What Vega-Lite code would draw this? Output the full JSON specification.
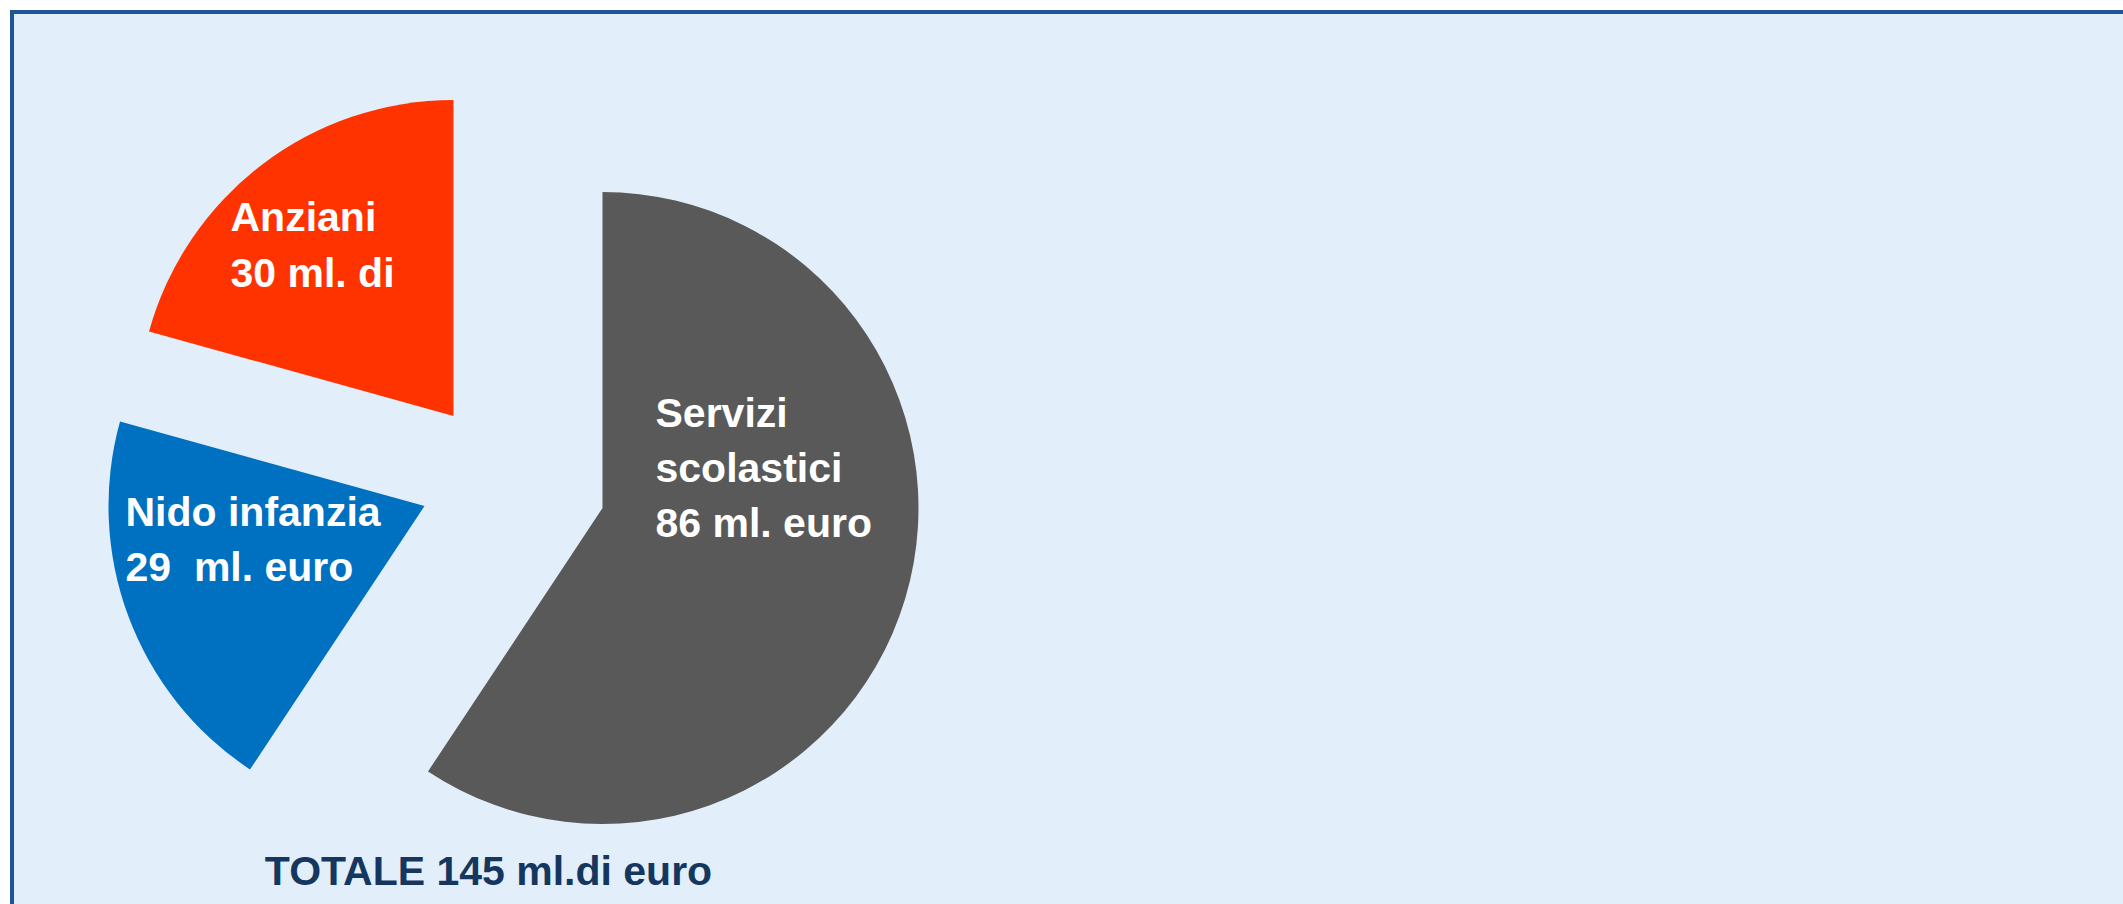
{
  "$schema": "https://vega.github.io/schema/vega-lite/v6.json",
  "autosize": {"type": "none"},
  "padding": {"left": 12, "top": 12, "right": -4, "bottom": -4},
  "width": 2115,
  "height": 896,
  "background": "#ffffff",
  "view": {"fill": "#E2EFFB", "stroke": "#1F5597", "strokeWidth": 4},
  "datasets": {
    "spesa": [
      {"categoria": "Servizi scolastici", "valore": 86, "etichetta": "Servizi\nscolastici\n86 ml. euro"},
      {"categoria": "Nido infanzia", "valore": 29, "etichetta": "Nido infanzia\n29\u00a0 ml. euro"},
      {"categoria": "Anziani", "valore": 30, "etichetta": "Anziani\n30 ml. di"}
    ],
    "totale": [{"testo": "TOTALE 145 ml.di euro"}]
  },
  "layer": [
    {
      "data": {"name": "spesa"},
      "transform": [
        {"stack": "valore", "groupby": [], "sort": [{"field": "categoria", "order": "descending"}], "as": ["inizio", "fine"]},
        {"filter": "datum.categoria == 'Servizi scolastici'"}
      ],
      "mark": {"type": "arc", "outerRadius": 316, "xOffset": -467, "yOffset": 48},
      "encoding": {
        "theta": {"field": "inizio", "type": "quantitative", "scale": {"domain": [0, 145]}},
        "theta2": {"field": "fine"},
        "color": {"field": "categoria", "type": "nominal", "scale": {"domain": ["Servizi scolastici", "Nido infanzia", "Anziani"], "range": ["#595959", "#0070C0", "#FF3300"]}, "legend": null}
      }
    },
    {
      "data": {"name": "spesa"},
      "transform": [
        {"stack": "valore", "groupby": [], "sort": [{"field": "categoria", "order": "descending"}], "as": ["inizio", "fine"]},
        {"filter": "datum.categoria == 'Nido infanzia'"}
      ],
      "mark": {"type": "arc", "outerRadius": 316, "xOffset": -645, "yOffset": 46},
      "encoding": {
        "theta": {"field": "inizio", "type": "quantitative", "scale": {"domain": [0, 145]}},
        "theta2": {"field": "fine"},
        "color": {"field": "categoria", "type": "nominal", "legend": null}
      }
    },
    {
      "data": {"name": "spesa"},
      "transform": [
        {"stack": "valore", "groupby": [], "sort": [{"field": "categoria", "order": "descending"}], "as": ["inizio", "fine"]},
        {"filter": "datum.categoria == 'Anziani'"}
      ],
      "mark": {"type": "arc", "outerRadius": 316, "xOffset": -616, "yOffset": -44},
      "encoding": {
        "theta": {"field": "inizio", "type": "quantitative", "scale": {"domain": [0, 145]}},
        "theta2": {"field": "fine"},
        "color": {"field": "categoria", "type": "nominal", "legend": null}
      }
    },
    {
      "data": {"name": "spesa"},
      "transform": [{"filter": "datum.categoria == 'Servizi scolastici'"}],
      "mark": {"type": "text", "align": "left", "baseline": "alphabetic", "font": "Liberation Sans", "fontWeight": "bold", "fontSize": 41, "lineHeight": 55, "lineBreak": "\n", "color": "#ffffff", "xOffset": -414, "yOffset": -33},
      "encoding": {"text": {"field": "etichetta"}}
    },
    {
      "data": {"name": "spesa"},
      "transform": [{"filter": "datum.categoria == 'Nido infanzia'"}],
      "mark": {"type": "text", "align": "left", "baseline": "alphabetic", "font": "Liberation Sans", "fontWeight": "bold", "fontSize": 41, "lineHeight": 55, "lineBreak": "\n", "color": "#ffffff", "xOffset": -944, "yOffset": 66},
      "encoding": {"text": {"field": "etichetta"}}
    },
    {
      "data": {"name": "spesa"},
      "transform": [{"filter": "datum.categoria == 'Anziani'"}],
      "mark": {"type": "text", "align": "left", "baseline": "alphabetic", "font": "Liberation Sans", "fontWeight": "bold", "fontSize": 41, "lineHeight": 56, "lineBreak": "\n", "color": "#ffffff", "xOffset": -839, "yOffset": -229},
      "encoding": {"text": {"field": "etichetta"}}
    },
    {
      "data": {"name": "totale"},
      "mark": {"type": "text", "align": "center", "baseline": "alphabetic", "font": "Liberation Sans", "fontWeight": "bold", "fontSize": 41, "color": "#15375F", "xOffset": -581, "yOffset": 425},
      "encoding": {"text": {"field": "testo"}}
    }
  ]
}
